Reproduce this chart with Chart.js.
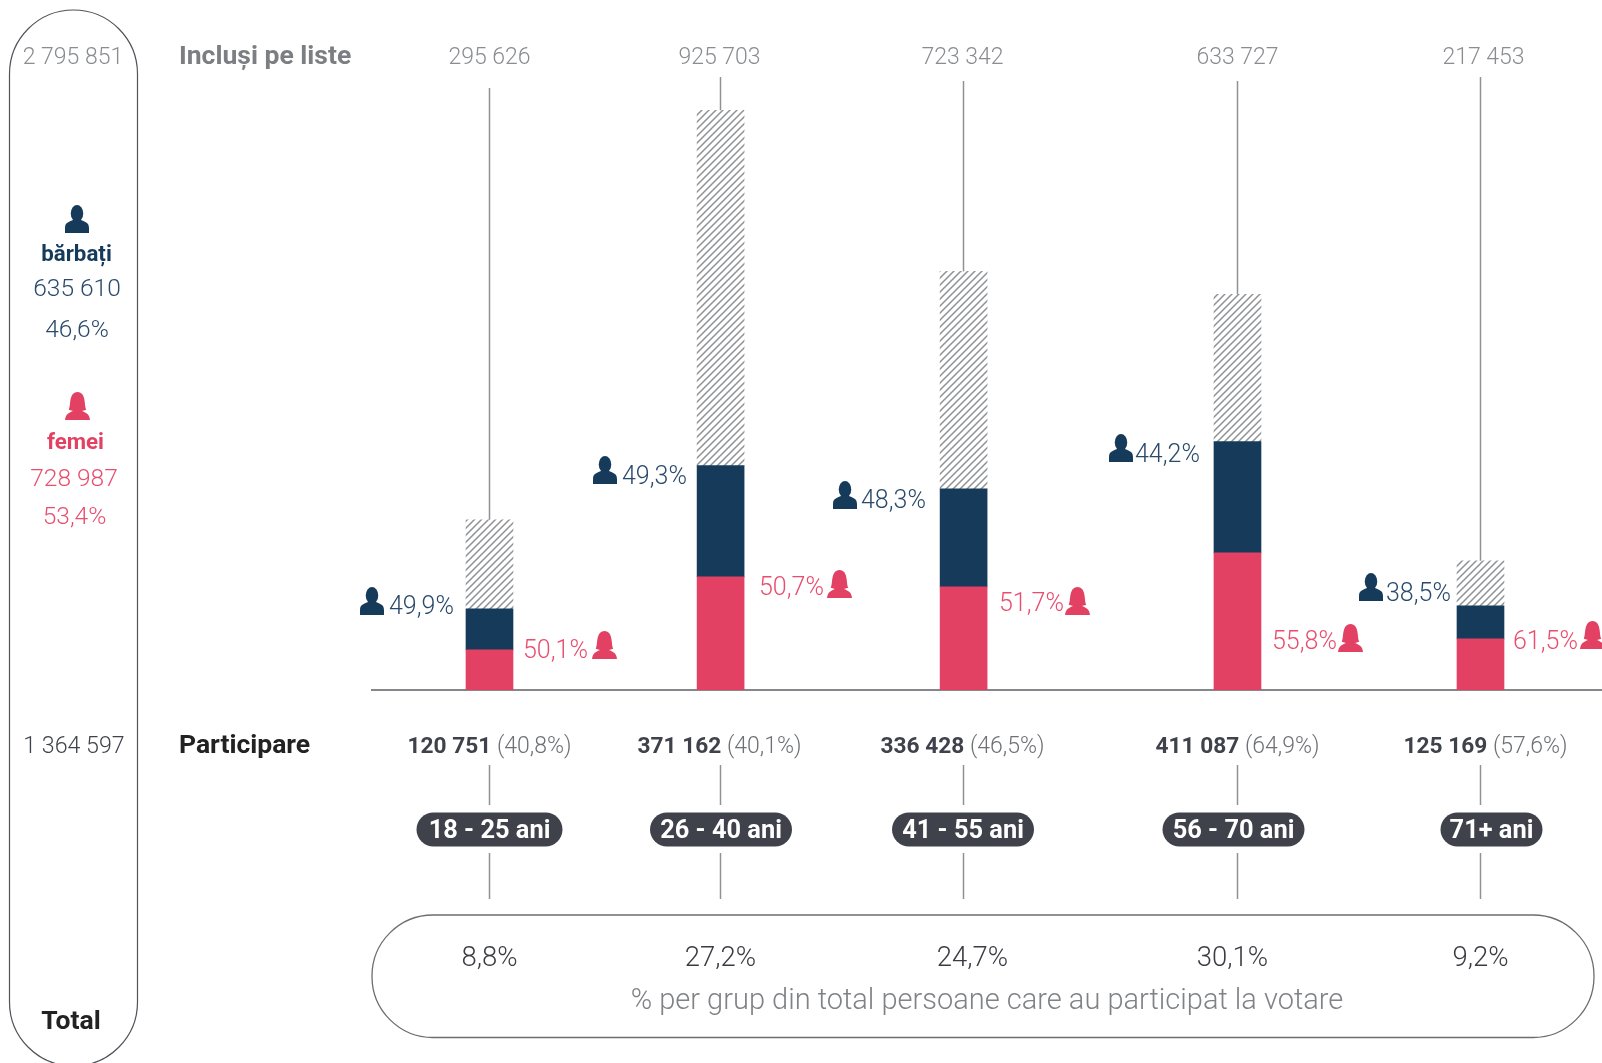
<!DOCTYPE html>
<html lang="ro">
<head>
<meta charset="utf-8">
<title>Participare la vot pe grupe de vârstă</title>
<script src="https://cdn.jsdelivr.net/npm/chart.js@4/dist/chart.umd.min.js"></script>
<style>
    html, body { margin: 0; padding: 0; background: #fff; overflow: hidden; }
    canvas { display: block; }
</style>
</head>
<body>
<canvas id="turnoutChart" width="1602" height="1063"></canvas>
<script>
// Data
const ageGroups = ['18 - 25 ani', '26 - 40 ani', '41 - 55 ani', '56 - 70 ani', '71+ ani'];
const registered = [295626, 925703, 723342, 633727, 217453];
const voters = [120751, 371162, 336428, 411087, 125169];
const turnoutPct = ['40,8%', '40,1%', '46,5%', '64,9%', '57,6%'];
const shareOfVoters = ['8,8%', '27,2%', '24,7%', '30,1%', '9,2%'];
const menPct = ['49,9%', '49,3%', '48,3%', '44,2%', '38,5%'];
const womenPct = ['50,1%', '50,7%', '51,7%', '55,8%', '61,5%'];

// Segment heights as drawn in the picture, in persons on the bar scale.
// They do not always agree with the printed figures, so they are read off the bars.
const barWomen = [63700, 179900, 164000, 218100, 81200];
const barMen = [65300, 176700, 156000, 176700, 52500];
const barNotVoted = [141700, 565000, 345500, 234100, 71700];

// Layout only: where each group sits on the x axis (uneven in the picture)
const groupSlots = [0, 0.951, 1.951, 3.078, 4.078];
const slotMin = -0.4835;
const slotMax = 4.578;

const lineTops = [88, 77, 81, 81, 77];
const topLabelShift = [0, -1, -1, 0, 3];
const voterLabelShift = [0, -1, -1, 0, 5];
const pillShift = [0, 0.5, -0.5, -4, 11];
const pillWidths = [146, 142, 142, 142, 102];
const shareShift = [0, 0, 9, -5, 0];
const menIconX = [360, 593, 833, 1109, 1359];
const menIconY = [587, 456, 481, 434, 573];
const menLabelX = [389, 622, 861, 1135, 1386];
const menLabelY = [614, 484, 508, 462, 601];
const womenIconX = [592, 827, 1065, 1338, 1580];
const womenIconY = [631, 570, 587, 624, 621];
const womenLabelX = [523, 759, 999, 1272, 1513];
const womenLabelY = [658, 595, 611, 649, 648.5];

const NAVY = '#163a5a';
const PINK = '#e34163';
const NAVY_TEXT = '#2a4a6c';
const PINK_TEXT = '#e84f6f';
const GREY_TEXT = '#8a8c90';
const LINE_GREY = '#8f9194';
const DARK_PILL = '#3f424b';

function hatchPattern() {
    const tile = document.createElement('canvas');
    tile.width = 7;
    tile.height = 7;
    const c = tile.getContext('2d');
    c.strokeStyle = LINE_GREY;
    c.lineWidth = 1.5;
    c.beginPath();
    c.moveTo(-1, 8); c.lineTo(8, -1);
    c.moveTo(-4, 4); c.lineTo(4, -4);
    c.moveTo(3, 11); c.lineTo(11, 3);
    c.stroke();
    return document.createElement('canvas').getContext('2d').createPattern(tile, 'repeat');
}

function formatNumber(n) {
    return String(n).replace(/\B(?=(\d{3})+$)/g, ' ');
}

function drawMan(ctx, x, y) {
    const w = 24, h = 28;
    ctx.fillStyle = NAVY;
    ctx.beginPath();
    ctx.ellipse(x + w * 0.5, y + h * 0.3, w * 0.26, h * 0.3, 0, 0, Math.PI * 2);
    ctx.fill();
    ctx.beginPath();
    ctx.moveTo(x, y + h);
    ctx.lineTo(x, y + h * 0.82);
    ctx.bezierCurveTo(x + w * 0.01, y + h * 0.62, x + w * 0.14, y + h * 0.62, x + w * 0.36, y + h * 0.53);
    ctx.lineTo(x + w * 0.64, y + h * 0.53);
    ctx.bezierCurveTo(x + w * 0.86, y + h * 0.62, x + w * 0.99, y + h * 0.62, x + w, y + h * 0.82);
    ctx.lineTo(x + w, y + h);
    ctx.closePath();
    ctx.fill();
}

function drawWoman(ctx, x, y) {
    const w = 25, h = 28;
    ctx.fillStyle = PINK;
    ctx.beginPath();
    ctx.moveTo(x, y + h);
    ctx.bezierCurveTo(x + w * 0.02, y + h * 0.78, x + w * 0.18, y + h * 0.74, x + w * 0.32, y + h * 0.68);
    ctx.lineTo(x + w * 0.15, y + h * 0.63);
    ctx.bezierCurveTo(x + w * 0.24, y + h * 0.5, x + w * 0.14, y + h * 0.01, x + w * 0.5, y);
    ctx.bezierCurveTo(x + w * 0.86, y + h * 0.01, x + w * 0.76, y + h * 0.5, x + w * 0.85, y + h * 0.63);
    ctx.lineTo(x + w * 0.68, y + h * 0.68);
    ctx.bezierCurveTo(x + w * 0.82, y + h * 0.74, x + w * 0.98, y + h * 0.78, x + w, y + h);
    ctx.closePath();
    ctx.fill();
}

function vLine(ctx, x, y1, y2) {
    ctx.beginPath();
    ctx.moveTo(x, y1);
    ctx.lineTo(x, y2);
    ctx.stroke();
}

function roundBox(ctx, x, y, w, h, r) {
    ctx.beginPath();
    ctx.roundRect(x, y, w, h, r);
}

function label(ctx, text, x, y, font, color, align) {
    ctx.font = font;
    ctx.fillStyle = color;
    ctx.textAlign = align || 'center';
    ctx.textBaseline = 'alphabetic';
    ctx.fillText(text, x, y);
}

// Everything around the bars: side panel, labels, connectors, pills
const annotations = {
    id: 'annotations',
    afterDatasetsDraw(chart) {
        const ctx = chart.ctx;
        const xScale = chart.scales.x;
        const yScale = chart.scales.y;
        const LIGHT = '300 25px Roboto';
        const PANEL = '300 24.5px Roboto';
        ctx.save();

        // left "Total" panel
        ctx.strokeStyle = '#50535a';
        ctx.lineWidth = 1.2;
        roundBox(ctx, 9.5, 10, 128, 1056, 64);
        ctx.stroke();
        label(ctx, formatNumber(2795851), 73, 64, '300 23px Roboto', GREY_TEXT);
        drawMan(ctx, 65, 205);
        label(ctx, 'bărbați', 76.5, 261, '700 22.3px Roboto', NAVY);
        label(ctx, formatNumber(635610), 77, 296, PANEL, NAVY_TEXT);
        label(ctx, '46,6%', 77, 337, PANEL, NAVY_TEXT);
        drawWoman(ctx, 65, 392);
        label(ctx, 'femei', 75.5, 449, '700 22.3px Roboto', PINK);
        label(ctx, formatNumber(728987), 74, 486, PANEL, PINK_TEXT);
        label(ctx, '53,4%', 74.5, 524, PANEL, PINK_TEXT);
        label(ctx, formatNumber(1364597), 74, 753, '300 23.2px Roboto', '#3f424b');
        label(ctx, 'Total', 71, 1029, '700 26.5px Roboto', '#222222');

        // row titles
        label(ctx, 'Incluși pe liste', 179, 64, '700 26.5px Roboto', '#7b7e82', 'left');
        label(ctx, 'Participare', 179, 753, '700 26.5px Roboto', '#222222', 'left');

        // bottom panel
        ctx.strokeStyle = '#6b6d72';
        ctx.lineWidth = 1.3;
        roundBox(ctx, 372, 915, 1222, 122.5, 61);
        ctx.stroke();
        label(ctx, '% per grup din total persoane care au participat la votare', 987, 1009, '300 29px Roboto', '#808286');

        ageGroups.forEach((group, i) => {
            const cx = Math.floor(xScale.getPixelForValue(groupSlots[i])) + 0.5;
            const barTop = yScale.getPixelForValue(barWomen[i] + barMen[i] + barNotVoted[i]);

            label(ctx, formatNumber(registered[i]), cx + topLabelShift[i], 64, '300 23px Roboto', GREY_TEXT);

            ctx.strokeStyle = LINE_GREY;
            ctx.lineWidth = 1.5;
            vLine(ctx, cx, lineTops[i], barTop);
            vLine(ctx, cx, 765, 805);
            vLine(ctx, cx, 853, 899);

            // voters + turnout, centred together
            const boldText = formatNumber(voters[i]);
            const lightText = ' (' + turnoutPct[i] + ')';
            ctx.font = '700 22.7px Roboto';
            const boldW = ctx.measureText(boldText).width;
            ctx.font = '300 23px Roboto';
            const lightW = ctx.measureText(lightText).width;
            const startX = cx + voterLabelShift[i] - (boldW + lightW) / 2;
            label(ctx, boldText, startX, 753, '700 22.7px Roboto', '#3f424b', 'left');
            label(ctx, lightText, startX + boldW, 753, '300 23px Roboto', '#6e7074', 'left');

            // age group pill
            const pillX = cx + pillShift[i] - pillWidths[i] / 2;
            ctx.fillStyle = DARK_PILL;
            roundBox(ctx, pillX, 812.5, pillWidths[i], 34, 17);
            ctx.fill();
            label(ctx, group, pillX + pillWidths[i] / 2, 838, '700 25.4px Roboto', '#ffffff');

            label(ctx, shareOfVoters[i], cx + shareShift[i], 966, '300 27.5px Roboto', '#3a3c42');

            // men / women shares beside the bars
            drawMan(ctx, menIconX[i], menIconY[i]);
            label(ctx, menPct[i], menLabelX[i], menLabelY[i], LIGHT, NAVY_TEXT, 'left');
            label(ctx, womenPct[i], womenLabelX[i], womenLabelY[i], LIGHT, PINK_TEXT, 'left');
            drawWoman(ctx, womenIconX[i], womenIconY[i]);
        });

        ctx.restore();
    }
};

const toPoints = values => values.map((v, i) => ({ x: groupSlots[i], y: v }));

new Chart(document.getElementById('turnoutChart').getContext('2d'), {
    type: 'bar',
    data: {
        datasets: [
            { label: 'femei', data: toPoints(barWomen), backgroundColor: PINK },
            { label: 'bărbați', data: toPoints(barMen), backgroundColor: NAVY },
            { label: 'neparticipanți', data: toPoints(barNotVoted), backgroundColor: hatchPattern() }
        ]
    },
    options: {
        responsive: false,
        animation: false,
        barThickness: 47,
        layout: { padding: { left: 372, right: 0, top: 61, bottom: 365 } },
        plugins: { legend: { display: false }, tooltip: { enabled: false } },
        scales: {
            x: {
                type: 'linear',
                stacked: true,
                min: slotMin,
                max: slotMax,
                offset: false,
                grid: { display: false },
                ticks: { display: false },
                border: { display: true, color: '#85878b', width: 2 }
            },
            y: {
                stacked: true,
                display: false,
                min: 0,
                max: 1000000
            }
        }
    },
    plugins: [annotations]
});
</script>
</body>
</html>
